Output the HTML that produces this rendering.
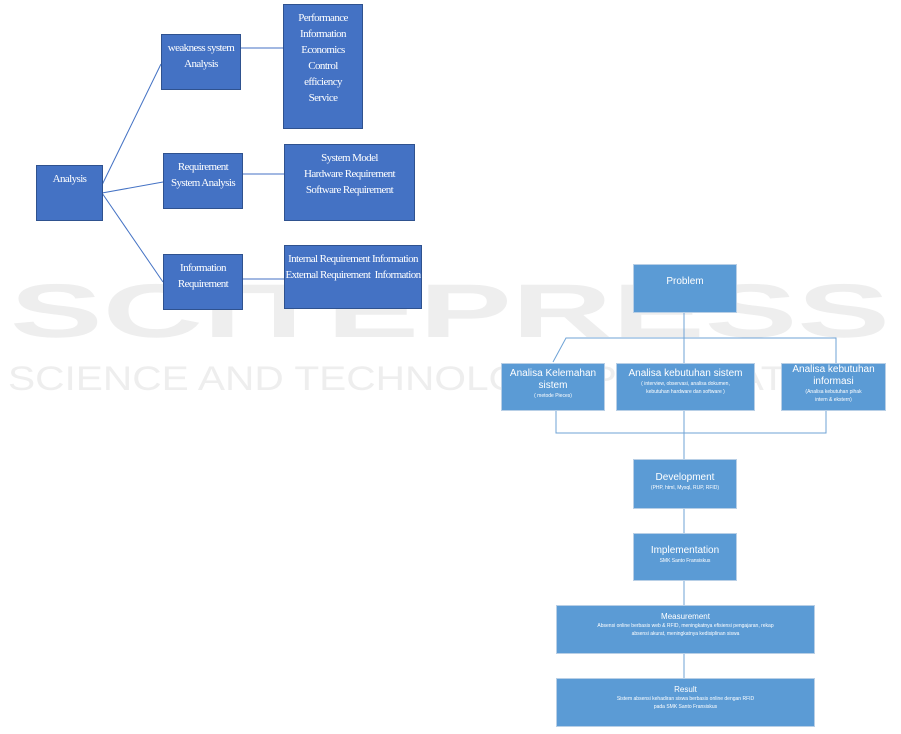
<!DOCTYPE html>
<html><head><style>
body{margin:0;width:901px;height:734px;background:#fff;overflow:hidden;position:relative;font-family:"Liberation Serif",serif}
.b{position:absolute;box-sizing:border-box;background:#4472c4;border:1.5px solid #2f528f;color:#fff;text-align:center;font-size:11px;line-height:16px;font-family:"Liberation Serif",serif;letter-spacing:-0.6px}
.r{position:absolute;box-sizing:border-box;background:#5b9bd5;border:1px solid #b8cfe6;color:#fff;text-align:center;font-family:"Liberation Sans",sans-serif;font-size:5px;line-height:8px}
.r .t{font-size:10px;line-height:12px}
</style></head><body>
<svg width="901" height="734" style="position:absolute;left:0;top:0">
<text x="10" y="337" font-family="Liberation Sans" font-weight="bold" font-size="76" fill="#eeeeee" textLength="880" lengthAdjust="spacingAndGlyphs">SCITEPRESS</text>
<text x="8" y="390" font-family="Liberation Sans" font-size="34" fill="#eeeeee" textLength="877" lengthAdjust="spacingAndGlyphs">SCIENCE AND TECHNOLOGY PUBLICATIONS</text>
<g stroke="#4472c4" stroke-width="1" fill="none">
<line x1="102" y1="185" x2="161" y2="64"/>
<line x1="102" y1="193" x2="163" y2="182"/>
<line x1="102" y1="193" x2="163" y2="282"/>
<line x1="240" y1="48" x2="283" y2="48"/>
<line x1="242" y1="174" x2="284" y2="174"/>
<line x1="242" y1="279" x2="284" y2="279"/>
</g>
<g stroke="#6fa3d6" stroke-width="1" fill="none">
<line x1="684" y1="312" x2="684" y2="459"/>
<polyline points="553,362 566,338 836,338 836,363"/>
<polyline points="556,410 556,433 826,433 826,410"/>
<line x1="684" y1="508" x2="684" y2="533"/>
<line x1="684" y1="580" x2="684" y2="605"/>
<line x1="684" y1="653" x2="684" y2="678"/>
</g>
</svg>
<div class="b" style="left:36px;top:165px;width:67px;height:56px;padding-top:5px">Analysis</div>
<div class="b" style="left:161px;top:34px;width:80px;height:56px;padding-top:5px">weakness system<br>Analysis</div>
<div class="b" style="left:283px;top:4px;width:80px;height:125px;padding-top:5px">Performance<br>Information<br>Economics<br>Control<br>efficiency<br>Service</div>
<div class="b" style="left:163px;top:153px;width:80px;height:56px;padding-top:5px">Requirement<br>System Analysis</div>
<div class="b" style="left:284px;top:144px;width:131px;height:77px;padding-top:5px">System Model<br>Hardware Requirement<br>Software Requirement</div>
<div class="b" style="left:163px;top:254px;width:80px;height:56px;padding-top:5px">Information<br>Requirement</div>
<div class="b" style="left:284px;top:245px;width:138px;height:64px;padding-top:5px">Internal Requirement Information<br>External Requirement&nbsp; Information</div>

<div class="r" style="left:633px;top:264px;width:104px;height:49px;padding-top:11px"><div class="t">Problem</div></div>
<div class="r" style="left:501px;top:363px;width:104px;height:48px;padding-top:4px"><div class="t">Analisa Kelemahan<br>sistem</div>( metode Pieces)</div>
<div class="r" style="left:616px;top:363px;width:139px;height:48px;padding-top:4px"><div class="t">Analisa kebutuhan sistem</div>( interview, observasi, analisa dokumen,<br>kebutuhan hardware dan software )</div>
<div class="r" style="left:781px;top:363px;width:105px;height:48px;padding-top:0px"><div class="t">Analisa kebutuhan<br>informasi</div>(Analisa kebutuhan pihak<br>intern &amp; ekstern)</div>
<div class="r" style="left:633px;top:459px;width:104px;height:50px;padding-top:12px"><div class="t">Development</div>(PHP, html, Mysql, RUP, RFID)</div>
<div class="r" style="left:633px;top:533px;width:104px;height:48px;padding-top:11px"><div class="t">Implementation</div>SMK Santo Fransiskus</div>
<div class="r" style="left:556px;top:605px;width:259px;height:49px;padding-top:6px"><div class="t" style="font-size:8px;line-height:10px">Measurement</div>Absensi online berbasis web &amp; RFID, meningkatnya efisiensi pengajaran, rekap<br>absensi akurat, meningkatnya kedisiplinan siswa</div>
<div class="r" style="left:556px;top:678px;width:259px;height:49px;padding-top:6px"><div class="t" style="font-size:8px;line-height:10px">Result</div>Sistem absensi kehadiran siswa berbasis online dengan RFID<br>pada SMK Santo Fransiskus</div>
</body></html>
